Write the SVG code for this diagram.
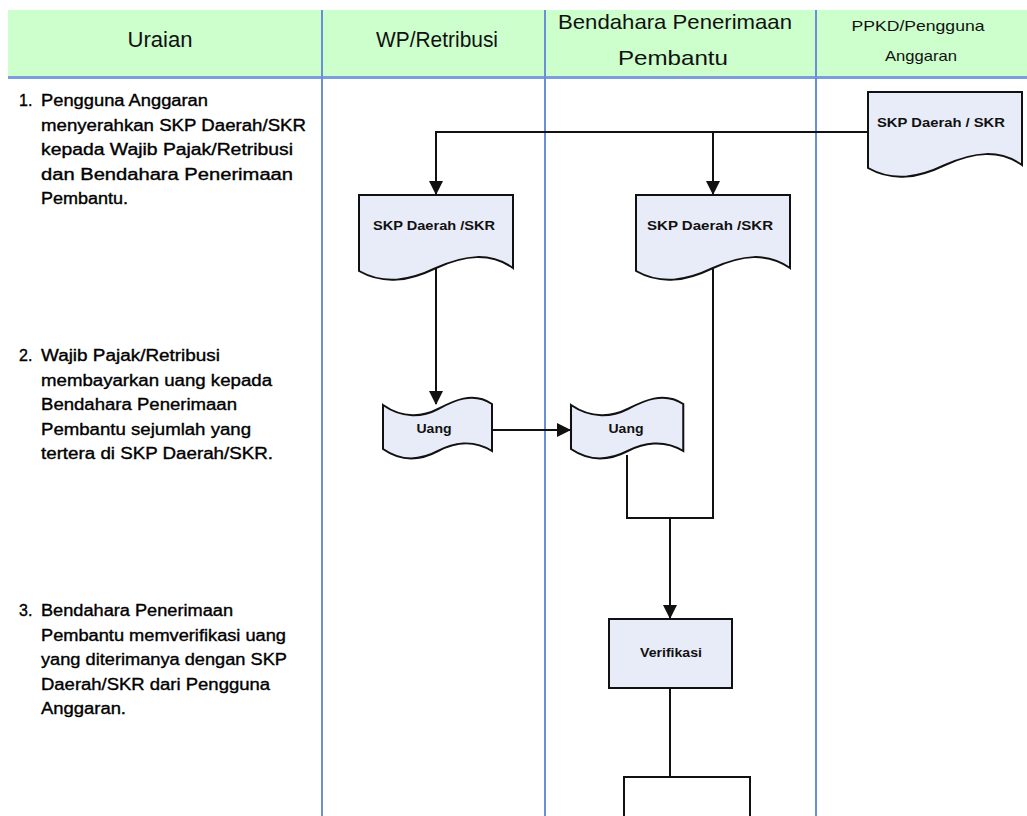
<svg xmlns="http://www.w3.org/2000/svg" width="1027" height="816" viewBox="0 0 1027 816">
  <style>
    .hdr { font-family: "Liberation Sans", Arial, sans-serif; fill: #111; }
    .step { font-family: "Liberation Sans", Arial, sans-serif; font-size: 16px; fill: #000; stroke: #000; stroke-width: 0.35; }
    .lbl { font-family: "Liberation Sans", Arial, sans-serif; font-size: 12px; font-weight: bold; fill: #111; }
    .shape { fill: #e8ecf8; stroke: #111; stroke-width: 2; }
    .lane { stroke: #6b8fd6; stroke-width: 2; }
    .conn { fill: none; stroke: #111; stroke-width: 2; }
  </style>
  <defs>
    <marker id="arrow" markerUnits="userSpaceOnUse" markerWidth="14" markerHeight="14" refX="13" refY="7" orient="auto">
      <path d="M0,0 L14,7 L0,14 Z" fill="#111"/>
    </marker>
    <!-- document symbol: flat top, wavy bottom -->
    <path id="doc" d="M0,0 H154 V73 C131,57 106,60 77,73 C50,86 25,90 0,76 Z"/>
    <!-- punched tape symbol -->
    <path id="tape" d="M0,0 C20,14 40,12 55,4 C70,-4 90,-14 109,-1 V46 C90,34 70,38 55,46 C40,54 20,58 0,44 Z"/>
  </defs>

  <rect width="1027" height="816" fill="#ffffff"/>

  <!-- header band -->
  <g id="header">
    <rect x="8" y="10" width="1019" height="66" fill="#ccffcc"/>
    <line x1="8" y1="77.5" x2="1027" y2="77.5" stroke="#7b9de0" stroke-width="3"/>
    <text class="hdr" x="160" y="47" font-size="22" text-anchor="middle" textLength="65" lengthAdjust="spacingAndGlyphs">Uraian</text>
    <text class="hdr" x="437" y="47" font-size="22" text-anchor="middle" textLength="122" lengthAdjust="spacingAndGlyphs">WP/Retribusi</text>
    <text class="hdr" x="675" y="29" font-size="21" text-anchor="middle" textLength="234" lengthAdjust="spacingAndGlyphs">Bendahara Penerimaan</text>
    <text class="hdr" x="673" y="65" font-size="21" text-anchor="middle" textLength="110" lengthAdjust="spacingAndGlyphs">Pembantu</text>
    <text class="hdr" x="918" y="31" font-size="15" text-anchor="middle" textLength="133" lengthAdjust="spacingAndGlyphs">PPKD/Pengguna</text>
    <text class="hdr" x="921" y="61" font-size="15" text-anchor="middle" textLength="72" lengthAdjust="spacingAndGlyphs">Anggaran</text>
  </g>

  <!-- swimlane separators -->
  <g id="lanes">
    <line class="lane" x1="322" y1="10" x2="322" y2="816"/>
    <line class="lane" x1="545" y1="10" x2="545" y2="816"/>
    <line class="lane" x1="816" y1="10" x2="816" y2="816"/>
  </g>

  <!-- description column -->
  <g id="step1">
    <text class="step" x="19" y="106">1.</text>
    <text class="step" x="41" y="106" textLength="167" lengthAdjust="spacingAndGlyphs">Pengguna Anggaran</text>
    <text class="step" x="41" y="130.5" textLength="265" lengthAdjust="spacingAndGlyphs">menyerahkan SKP Daerah/SKR</text>
    <text class="step" x="41" y="155" textLength="252" lengthAdjust="spacingAndGlyphs">kepada Wajib Pajak/Retribusi</text>
    <text class="step" x="41" y="179.5" textLength="252" lengthAdjust="spacingAndGlyphs">dan Bendahara Penerimaan</text>
    <text class="step" x="41" y="204" textLength="87" lengthAdjust="spacingAndGlyphs">Pembantu.</text>
  </g>
  <g id="step2">
    <text class="step" x="19" y="361">2.</text>
    <text class="step" x="41" y="361" textLength="179" lengthAdjust="spacingAndGlyphs">Wajib Pajak/Retribusi</text>
    <text class="step" x="41" y="385.5" textLength="231" lengthAdjust="spacingAndGlyphs">membayarkan uang kepada</text>
    <text class="step" x="41" y="410" textLength="196" lengthAdjust="spacingAndGlyphs">Bendahara Penerimaan</text>
    <text class="step" x="41" y="434.5" textLength="210" lengthAdjust="spacingAndGlyphs">Pembantu sejumlah yang</text>
    <text class="step" x="41" y="459" textLength="232" lengthAdjust="spacingAndGlyphs">tertera di SKP Daerah/SKR.</text>
  </g>
  <g id="step3">
    <text class="step" x="19" y="616">3.</text>
    <text class="step" x="41" y="616" textLength="192" lengthAdjust="spacingAndGlyphs">Bendahara Penerimaan</text>
    <text class="step" x="41" y="640.5" textLength="245" lengthAdjust="spacingAndGlyphs">Pembantu memverifikasi uang</text>
    <text class="step" x="41" y="665" textLength="246" lengthAdjust="spacingAndGlyphs">yang diterimanya dengan SKP</text>
    <text class="step" x="41" y="689.5" textLength="229" lengthAdjust="spacingAndGlyphs">Daerah/SKR dari Pengguna</text>
    <text class="step" x="41" y="714" textLength="85" lengthAdjust="spacingAndGlyphs">Anggaran.</text>
  </g>

  <!-- connectors -->
  <g id="connectors">
    <path class="conn" d="M868,132 H436 V194" marker-end="url(#arrow)"/>
    <path class="conn" d="M713,132 V194" marker-end="url(#arrow)"/>
    <path class="conn" d="M436,268 V404" marker-end="url(#arrow)"/>
    <path class="conn" d="M492,430 H570" marker-end="url(#arrow)"/>
    <path class="conn" d="M627,455 V518 H713 V268"/>
    <path class="conn" d="M670,518 V618" marker-end="url(#arrow)"/>
    <path class="conn" d="M670,688 V777"/>
  </g>

  <!-- flow symbols -->
  <g id="skr-ppkd">
    <use href="#doc" class="shape" transform="translate(868,92)"/>
    <text class="lbl" x="941" y="127" font-size="13" text-anchor="middle" textLength="128" lengthAdjust="spacingAndGlyphs">SKP Daerah / SKR</text>
  </g>
  <g id="skr-wp">
    <use href="#doc" class="shape" transform="translate(359,195)"/>
    <text class="lbl" x="434" y="230" font-size="13" text-anchor="middle" textLength="122" lengthAdjust="spacingAndGlyphs">SKP Daerah /SKR</text>
  </g>
  <g id="skr-bendahara">
    <use href="#doc" class="shape" transform="translate(636,195)"/>
    <text class="lbl" x="710" y="230" font-size="13" text-anchor="middle" textLength="126" lengthAdjust="spacingAndGlyphs">SKP Daerah /SKR</text>
  </g>
  <g id="uang-wp">
    <use href="#tape" class="shape" transform="translate(383,405)"/>
    <text class="lbl" x="434" y="433" text-anchor="middle" textLength="35" lengthAdjust="spacingAndGlyphs">Uang</text>
  </g>
  <g id="uang-bendahara">
    <use href="#tape" class="shape" transform="translate(571,405) scale(1.03,1)"/>
    <text class="lbl" x="626" y="433" text-anchor="middle" textLength="35" lengthAdjust="spacingAndGlyphs">Uang</text>
  </g>
  <g id="verifikasi">
    <rect class="shape" x="609" y="619" width="123" height="69"/>
    <text class="lbl" x="671" y="657" text-anchor="middle" textLength="62" lengthAdjust="spacingAndGlyphs">Verifikasi</text>
  </g>
  <g id="next-step">
    <path d="M624,817 V777 H750 V817" fill="#ffffff" stroke="#111" stroke-width="2"/>
  </g>
</svg>
